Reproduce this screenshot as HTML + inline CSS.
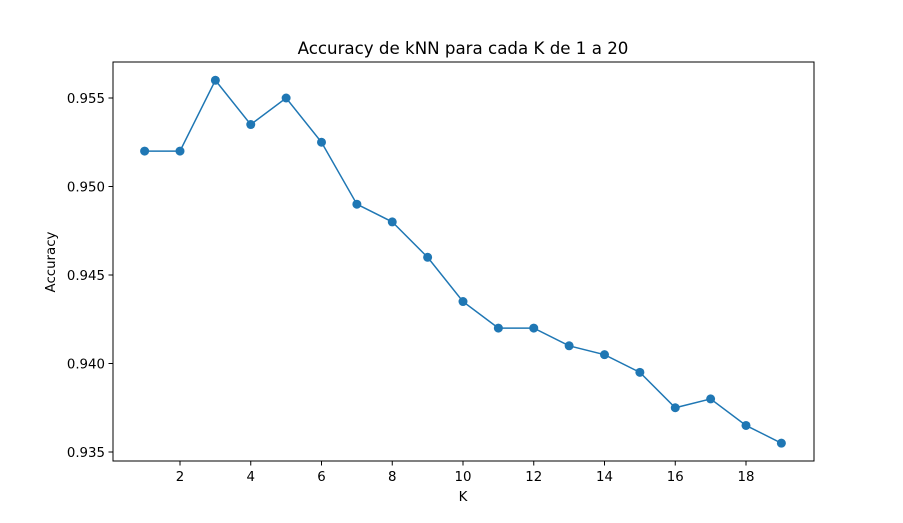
<!DOCTYPE html>
<html><head><meta charset="utf-8"><style>
body{margin:0;background:#fff;}
svg text{font-family:"DejaVu Sans","Liberation Sans",sans-serif;fill:#000;}
</style></head><body>
<svg id="chart" width="903" height="518" xmlns="http://www.w3.org/2000/svg">
<rect width="903" height="518" fill="#fff"/>
<text x="463" y="54" font-size="16.67" text-anchor="middle">Accuracy de kNN para cada K de 1 a 20</text>
<g id="xt"></g><g id="yt"></g><g id="plot"></g>
<rect x="113" y="62" width="701" height="399" fill="none" stroke="#000" stroke-width="1"/>
<text x="463" y="501" font-size="13.33" text-anchor="middle">K</text>
<text x="55" y="262" font-size="13.33" text-anchor="middle" transform="rotate(-90 55 262)">Accuracy</text>
</svg>
<script>
const kValues=[1,2,3,4,5,6,7,8,9,10,11,12,13,14,15,16,17,18,19];
const accuracy=[0.952,0.952,0.956,0.9535,0.955,0.9525,0.949,0.948,0.946,0.9435,0.942,0.942,0.941,0.9405,0.9395,0.9375,0.938,0.9365,0.9355];
const xTicks=[2,4,6,8,10,12,14,16,18];
const yTicks=[0.935,0.940,0.945,0.950,0.955];
const yTickLabels=["0.935","0.940","0.945","0.950","0.955"];
const NS="http://www.w3.org/2000/svg";
function xs(v){return 180+(v-2)*35.375;}
function ys(v){return 452-(v-0.935)/0.005*88.5;}
function mk(t,a,p){const e=document.createElementNS(NS,t);for(const k in a)e.setAttribute(k,a[k]);p.appendChild(e);return e;}
const xt=document.getElementById('xt'),yt=document.getElementById('yt'),plot=document.getElementById('plot');
xTicks.forEach(v=>{
 const l=mk('line',{x1:xs(v),x2:xs(v),y1:461,y2:465.5,stroke:'#000'},xt);
 
 
 const t=mk('text',{x:xs(v),y:481,'font-size':13.33,'text-anchor':'middle'},xt);t.textContent=v;
 
 
});
yTicks.forEach((v,i)=>{
 const l=mk('line',{x1:108.5,x2:113,y1:ys(v),y2:ys(v),stroke:'#000'},yt);
 
 
 const t=mk('text',{x:105,y:ys(v)+5,'font-size':13.33,'text-anchor':'end'},yt);t.textContent=yTickLabels[i];
 
 
});
const pts=kValues.map((k,i)=>xs(k)+','+ys(accuracy[i])).join(' ');
const pl=mk('polyline',{points:pts,fill:'none',stroke:'#1f77b4','stroke-width':1.5},plot);


kValues.forEach((k,i)=>{
 const c=mk('circle',{cx:xs(k),cy:ys(accuracy[i]),r:4.5,fill:'#1f77b4'},plot);
 
 
});
</script>
</body></html>
